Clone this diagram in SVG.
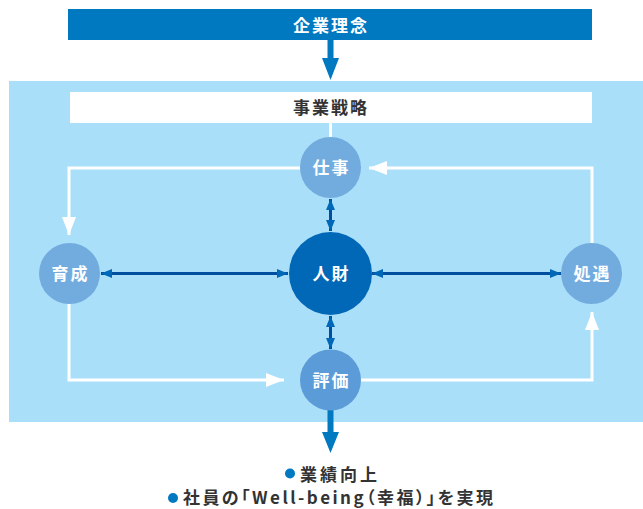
<svg xmlns="http://www.w3.org/2000/svg" width="643" height="509" viewBox="0 0 643 509">
<style>
.t{font-family:"Noto Sans CJK JP","Noto Sans",sans-serif;font-weight:bold;font-size:17px;letter-spacing:2px;text-anchor:middle}
.w{fill:#ffffff}
.d{fill:#333333}
.r{text-anchor:start;letter-spacing:0;font-feature-settings:"palt"}
.loop{fill:none;stroke:#ffffff;stroke-width:3}
.blue{fill:none;stroke:#004e9f;stroke-width:3}
.sc{fill:#72acdf}
</style>
<defs>
<marker id="wh" viewBox="0 0 18 14" refX="18" refY="7" markerWidth="18" markerHeight="14" markerUnits="userSpaceOnUse" orient="auto">
<path d="M0,0 L18,7 L0,14 Z" fill="#ffffff"/>
</marker>
<marker id="bh" viewBox="0 0 11 9" refX="11" refY="4.5" markerWidth="11" markerHeight="9" markerUnits="userSpaceOnUse" orient="auto-start-reverse">
<path d="M0,0 L11,4.5 L0,9 Z" fill="#0068b7"/>
</marker>
</defs>
<rect x="9" y="81" width="634" height="341" fill="#aadff9"/>
<g id="philosophy">
<rect x="68" y="9" width="524" height="31" fill="#0079c1"/>
<text class="t w" x="331" y="32">企業理念</text>
</g>
<g id="strategy">
<rect x="70" y="92" width="522" height="31" fill="#ffffff"/>
<text class="t d" x="331" y="114">事業戦略</text>
</g>
<g id="connectors">
<path d="M327.5,40 V58 H322 L330.5,80 L339,58 H333.5 V40 Z" fill="#0079c1"/>
<line x1="330.5" y1="123" x2="330.5" y2="140" stroke="#ffffff" stroke-width="3"/>
<path class="loop" d="M300,168 H69 V235" marker-end="url(#wh)"/>
<path class="loop" d="M69,304 V380 H284" marker-end="url(#wh)"/>
<path class="loop" d="M360,380 H592 V312" marker-end="url(#wh)"/>
<path class="loop" d="M592,243 V168 H369" marker-end="url(#wh)"/>
<line class="blue" x1="101" y1="273.5" x2="288" y2="273.5" marker-start="url(#bh)" marker-end="url(#bh)"/>
<line class="blue" x1="372" y1="273.5" x2="561" y2="273.5" marker-start="url(#bh)" marker-end="url(#bh)"/>
<line class="blue" x1="330.5" y1="199" x2="330.5" y2="231" marker-start="url(#bh)" marker-end="url(#bh)"/>
<line class="blue" x1="330.5" y1="316" x2="330.5" y2="349" marker-start="url(#bh)" marker-end="url(#bh)"/>
<path d="M327.5,405 V432 H322 L330.5,453 L339,432 H333.5 V405 Z" fill="#0079c1"/>
</g>
<g id="shigoto">
<circle class="sc" cx="330.5" cy="167.5" r="30.5"/>
<text class="t w" x="331.5" y="174">仕事</text>
</g>
<g id="jinzai">
<circle cx="330.5" cy="273.5" r="41.5" fill="#0068b7"/>
<text class="t w" x="331.5" y="280">人財</text>
</g>
<g id="ikusei">
<circle class="sc" cx="69.5" cy="273.5" r="30.5"/>
<text class="t w" x="70.5" y="280">育成</text>
</g>
<g id="shogu">
<circle class="sc" cx="591.5" cy="273.5" r="30.5"/>
<text class="t w" x="592.5" y="280">処遇</text>
</g>
<g id="hyoka">
<circle cx="330.5" cy="380" r="30.5" fill="#5b9bd7"/>
<text class="t w" x="331.5" y="386.5">評価</text>
</g>
<g id="results">
<circle cx="290" cy="473.5" r="5" fill="#0079c1"/>
<text class="t d r" x="300" y="481" textLength="77" lengthAdjust="spacing">業績向上</text>
<circle cx="173" cy="498" r="5" fill="#0079c1"/>
<text class="t d r" x="183" y="504" textLength="310" lengthAdjust="spacing">社員の「Well-being（幸福）」を実現</text>
</g>
</svg>
